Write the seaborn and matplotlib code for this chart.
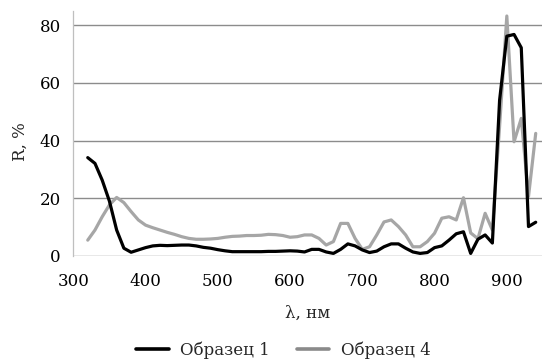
import numpy as np
import pandas as pd
import seaborn as sns
import matplotlib
matplotlib.use("Agg")
import matplotlib.pyplot as plt
from matplotlib.lines import Line2D

wavelength = list(range(320, 950, 10))
sample1 = [34.1, 32.1, 26.3, 19.0, 9.0, 2.7, 1.3, 2.1, 2.9, 3.5,
           3.7, 3.6, 3.7, 3.8, 3.8, 3.5, 3.0, 2.7, 2.2, 1.8,
           1.5, 1.5, 1.5, 1.5, 1.5, 1.6, 1.6, 1.7, 1.8, 1.7,
           1.4, 2.3, 2.3, 1.4, 0.9, 2.3, 4.2, 3.5, 2.1, 1.2,
           1.7, 3.2, 4.2, 4.2, 2.7, 1.4, 0.9, 1.2, 2.9, 3.5,
           5.5, 7.7, 8.4, 0.9, 5.8, 7.3, 4.5, 54.0, 76.2, 76.8,
           72.2, 10.2, 11.7]
sample4 = [5.5, 9.0, 13.6, 17.7, 20.3, 18.5, 15.4, 12.5, 10.7, 9.8,
           9.0, 8.2, 7.5, 6.7, 6.1, 5.8, 5.8, 5.9, 6.1, 6.5,
           6.8, 6.9, 7.1, 7.1, 7.2, 7.5, 7.4, 7.1, 6.5, 6.7,
           7.3, 7.3, 6.1, 3.8, 5.0, 11.3, 11.3, 6.1, 2.3, 3.2,
           7.3, 11.8, 12.5, 10.2, 7.3, 3.2, 3.2, 5.0, 7.9, 13.1,
           13.6, 12.5, 20.2, 8.0, 6.0, 14.8, 9.0, 45.0, 83.2, 39.6,
           47.7, 20.6, 42.5]
series_names = ["Образец 1", "Образец 4"]
series_colors = ["#000000", "#a6a6a6"]
x_ticks = [300, 400, 500, 600, 700, 800, 900]
y_ticks = [0, 20, 40, 60, 80]

df = pd.DataFrame({
    "x": wavelength * 2,
    "y": sample1 + sample4,
    "s": [series_names[0]] * len(wavelength) + [series_names[1]] * len(wavelength),
})

sns.set_theme(style="white")
plt.rcParams["font.family"] = ["DejaVu Serif"]

W, H = 542, 362
fig = plt.figure(figsize=(W / 100, H / 100), dpi=100)
left, right, bottom, top = 73.3, 541.5, 256.0, 10.8
ax = fig.add_axes([left / W, 1 - bottom / H, (right - left) / W, (bottom - top) / H])

sns.lineplot(data=df, x="x", y="y", hue="s", palette=series_colors,
             hue_order=series_names, linewidth=2.3, ax=ax, legend=False)
# black series drawn above the grey one
for ln in ax.lines:
    if matplotlib.colors.to_hex(ln.get_color()) == "#000000":
        ln.set_zorder(3)
    else:
        ln.set_zorder(2)

ax.set_xlim(300, 948)
ax.set_ylim(0, 85)
ax.set_xticks(x_ticks)
ax.set_yticks(y_ticks)
ax.tick_params(axis="both", labelsize=12, colors="#000000")
ax.tick_params(axis="x", length=5, width=0.9, color="#bfbfbf", pad=7, direction="out")
ax.tick_params(axis="y", length=5, width=1.0, color="#8c8c8c", pad=4, direction="out")
ax.yaxis.grid(True, color="#8c8c8c", linewidth=1.0)
ax.xaxis.grid(False)
ax.set_axisbelow(True)
for s in ["top", "right", "bottom"]:
    ax.spines[s].set_visible(False)
ax.spines["left"].set_color("#bfbfbf")
ax.spines["left"].set_linewidth(0.9)
ax.set_xlabel("")
ax.set_ylabel("")

fig.text(20 / W, 1 - 141.5 / H, "R, %", rotation=90, ha="center", va="center", fontsize=12)
fig.text(308 / W, 1 - 313 / H, "λ, нм", ha="center", va="center", fontsize=12)

handles = [Line2D([0], [0], color=c, linewidth=2.6) for c in ["#000000", "#8a8a8a"]]
fig.legend(handles, series_names, loc="center", bbox_to_anchor=(283.5 / W, 1 - 350 / H),
           ncol=2, frameon=False, fontsize=12, handlelength=1.95, handletextpad=0.7,
           columnspacing=1.6, borderpad=0, borderaxespad=0)

fig.savefig("out.png", dpi=100)
